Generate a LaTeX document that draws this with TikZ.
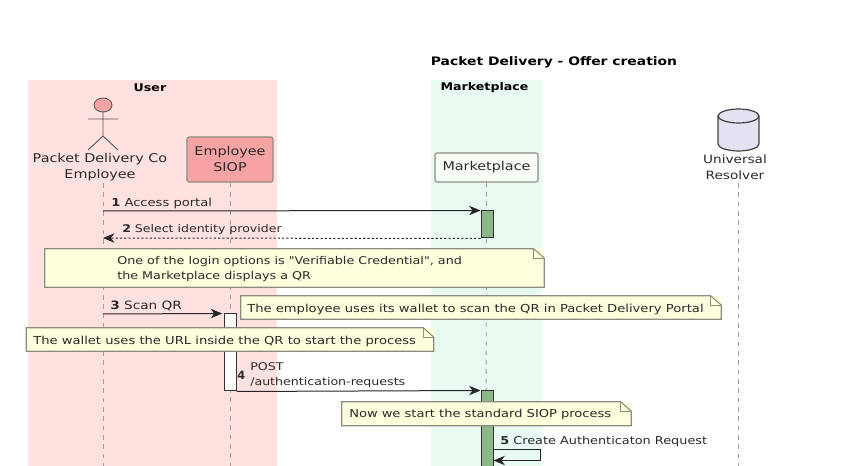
\documentclass[tikz,border=0pt]{standalone}
\usepackage{fontspec}
\newfontfamily\wideface[FakeStretch=1.19]{DejaVu Sans}
\newfontfamily\plainface{DejaVu Sans}
\usetikzlibrary{arrows.meta}
\definecolor{userbg}{HTML}{FFE1DF}
\definecolor{marketbg}{HTML}{E9FAF0}
\definecolor{actorpink}{HTML}{F8A3A3}
\definecolor{notefill}{HTML}{FEFFDD}
\definecolor{edgegrey}{HTML}{8C8C80}
\definecolor{linegrey}{HTML}{A0A0A0}
\definecolor{actgreen}{HTML}{8AB88A}
\definecolor{dbfill}{HTML}{E2E2F0}
\definecolor{inkc}{HTML}{2A2A2A}
\newcommand{\ptxt}{\wideface\fontsize{9.05}{12}\selectfont}
\newcommand{\msgat}[1]{\wideface\fontsize{#1}{11.25}\selectfont}
\newcommand{\titletxt}{\wideface\fontsize{8.75}{11}\selectfont\bfseries}
\newcommand{\foldnote}[9]{%
  \node[notebg, minimum width={(#4-#2)*0.75pt}, minimum height={(#5-#3)*0.75pt}] (#1) at ({(#2+#4)/2},{(#3+#5)/2}) {};
  \draw[noteedge] (#1.south west) -- (#1.north west) -- ([xshift=-8pt]#1.north east) -- ([yshift=-7pt]#1.north east) -- (#1.south east) -- cycle;
  \draw[noteedge] ([xshift=-8pt]#1.north east) -- ([xshift=-8pt,yshift=-7pt]#1.north east) -- ([yshift=-7pt]#1.north east);
  \node[notetext, font=\msgat{#9}] (#1-t) at (#6,#7) {#8};}
\tikzset{
  notebg/.style={rectangle, fill=notefill, draw=none, inner sep=0pt},
  noteedge/.style={draw=edgegrey, line width=0.8pt},
  notetext/.style={anchor=west, inner sep=0pt, text=inkc, align=left},
  msglabel/.style={anchor=west, inner sep=0pt, text=inkc, align=left},
  head/.style={font=\msgat{7.95}\bfseries, text=black, inner sep=0pt},
  actorlabel/.style={font=\ptxt, text=inkc, inner sep=0pt, align=center},
  participant/.style={rectangle, rounded corners=1.5pt, draw=edgegrey, line width=0.8pt, inner sep=0pt, font=\ptxt, text=inkc, align=center},
  lifeline/.style={draw=linegrey, line width=0.7pt, dash pattern=on 3.5pt off 3.5pt},
  msgline/.style={draw=black!85, line width=0.75pt},
  tip/.style={-{Stealth[length=8.5pt,width=7pt,inset=2.5pt]}},
  activation/.style={rectangle, draw=black!80, line width=0.75pt, inner sep=0pt, minimum width=9pt},
}
\begin{document}
\begin{tikzpicture}[x=0.75pt,y=-0.75pt]
\useasboundingbox (0,0) rectangle (868,466);
\begin{scope}
\clip (0,0) rectangle (868,466);
% boxes
\fill[userbg] (27.5,80) rectangle (277,470);
\fill[marketbg] (431,80) rectangle (542,470);
\node[head, font=\titletxt] (title) at (554,62) {Packet Delivery - Offer creation};
\node[head] (userh) at (150,87.5) {User};
\node[head] (marketh) at (484.5,87.5) {Marketplace};
% actor
\draw[draw=edgegrey!70!black, fill=actorpink, line width=0.7pt] (103,105) ellipse [x radius=9,y radius=7];
\draw[draw=black!65, line width=0.7pt] (103,112) -- (103,136) (88,119) -- (118,119) (88,150) -- (103,136) -- (118,150);
\node[actorlabel] (emp) at (100,167) {Packet Delivery Co\\Employee};
% participants
\node[participant, fill=actorpink, minimum width=64.5pt, minimum height=33.75pt] (siop) at (230,159.5) {Employee\\SIOP};
\node[participant, fill=green!3!white, minimum width=77.25pt, minimum height=21.75pt] (mkt) at (486.5,167.5) {Marketplace};
% database
\draw[draw=black!75, fill=dbfill, line width=0.9pt] (718,116) .. controls (718,112) and (728,109) .. (738.5,109) .. controls (749,109) and (759,112) .. (759,116) -- (759,144) .. controls (759,148) and (749,151) .. (738.5,151) .. controls (728,151) and (718,148) .. (718,144) -- cycle;
\draw[draw=black!75, line width=0.9pt] (718,116) .. controls (718,120) and (728,123) .. (738.5,123) .. controls (749,123) and (759,120) .. (759,116);
\node[actorlabel, font=\wideface\fontsize{8.6}{12}\selectfont] (ur) at (735,167) {Universal\\Resolver};
% lifeline ends
\coordinate (l0) at (103,183);
\coordinate (l4s) at (738,183);
\coordinate (l1) at (103,470);
\coordinate (l2) at (230,470);
\coordinate (l3) at (486,470);
\coordinate (l4) at (738,470);
\draw[lifeline] (l0) -- (l1);
\draw[lifeline] (siop.south) -- (l2);
\draw[lifeline] (mkt.south) -- (l3);
\draw[lifeline] (l4s) -- (l4);
% activations
\node[activation, fill=actgreen, minimum height=20.25pt] (a1) at (487,224.5) {};
\node[activation, fill=white, minimum height=57.75pt] (a2) at (230,352.5) {};
\node[activation, fill=actgreen, minimum height=60pt] (a3) at (487,431) {};
% messages
\coordinate (p1) at (103,211);
\coordinate (p2) at (103,238);
\coordinate (p3) at (103,314);
\draw[msgline, tip] (p1) -- (a1.north west);
\draw[msgline, dash pattern=on 1.6pt off 1.6pt, tip] (a1.south west) -- (p2);
\draw[msgline, tip] (p3) -- ([xshift=-1pt]a2.north west);
\draw[msgline, tip] (a2.south east) -- (a3.north west);
\coordinate (s0) at (493,450);
\coordinate (s1) at (540,450);
\coordinate (s2) at (540,460.5);
\coordinate (s3) at (493.5,460.5);
\draw[msgline, tip] (s0) -- (s1) -- (s2) -- (s3);
\node[msglabel, font=\msgat{8.25}] (t1) at (111,203) {\textbf{1} Access portal};
\node[msglabel, font=\msgat{7.9}] (t2) at (122,229.5) {\textbf{2} Select identity provider};
\node[msglabel, font=\msgat{8.6}] (t3) at (110,306) {\textbf{3} Scan QR};
\node[msglabel, font=\plainface\fontsize{8.5}{10}\selectfont] (t4a) at (237,375.5) {\textbf{4}};
\node[msglabel, font=\msgat{7.95}] (t4) at (250,375.5) {POST\\/authentication-requests};
\node[msglabel, font=\msgat{8.1}] (t5) at (500,441.5) {\textbf{5} Create Authenticaton Request};
% notes
\foldnote{n1}{45}{249}{544}{287}{117}{269.5}{One of the login options is "Verifiable Credential", and\\the Marketplace displays a QR}{8.03}
\foldnote{n2}{241}{296}{721}{319}{247}{309}{The employee uses its wallet to scan the QR in Packet Delivery Portal}{8.28}
\foldnote{n3}{26.5}{328}{433.5}{351}{33}{341}{The wallet uses the URL inside the QR to start the process}{8.27}
\foldnote{n4}{342}{402}{631}{425.5}{349}{414.5}{Now we start the standard SIOP process}{8.22}
\end{scope}
\end{tikzpicture}
\end{document}
